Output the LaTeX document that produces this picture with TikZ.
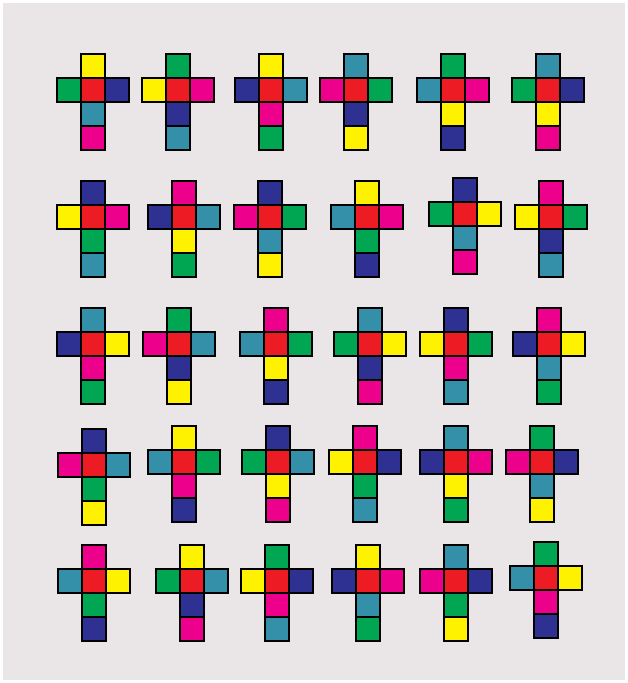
\documentclass[tikz,border=0pt]{standalone}
\usepackage{tikz}
\usetikzlibrary{positioning}
\definecolor{bggray}{HTML}{EAE6E8}
\definecolor{yel}{HTML}{FFF200}
\definecolor{grn}{HTML}{00A651}
\definecolor{blu}{HTML}{2E3192}
\definecolor{tea}{HTML}{3490A8}
\definecolor{mag}{HTML}{EC008C}
\definecolor{redc}{HTML}{ED1C24}
\tikzset{
 sq/.style={draw=black,line width=1.4pt,minimum size=24pt,inner sep=0pt,outer sep=0pt},
 mid/.style={sq,fill=redc}
}

\begin{document}
\begin{tikzpicture}[x=1pt,y=-1pt]
 \useasboundingbox (0,0) rectangle (627,683);
 \fill[bggray] (3,3) rectangle (625,680);
 % one cross per entry: centre x/y, then top, left, right, lower, lowest
 \foreach \px/\py/\t/\l/\r/\a/\b [count=\i] in {
   93/90/yel/grn/blu/tea/mag, 178/90/grn/yel/mag/blu/tea, 271/90/yel/blu/tea/mag/grn,
   356/90/tea/mag/grn/blu/yel, 453/90/grn/tea/mag/yel/blu, 548/90/tea/grn/blu/yel/mag,
   93/217/blu/yel/mag/grn/tea, 184/217/mag/blu/tea/yel/grn, 270/217/blu/mag/grn/tea/yel,
   367/217/yel/tea/mag/grn/blu, 465/214/blu/grn/yel/tea/mag, 551/217/mag/yel/grn/blu/tea,
   93/344/tea/blu/yel/mag/grn, 179/344/grn/mag/tea/blu/yel, 276/344/mag/tea/grn/yel/blu,
   370/344/tea/grn/yel/blu/mag, 456/344/blu/yel/grn/mag/tea, 549/344/mag/blu/yel/tea/grn,
   94/465/blu/mag/tea/grn/yel, 184/462/yel/tea/grn/mag/blu, 278/462/blu/grn/tea/yel/mag,
   365/462/mag/yel/blu/grn/tea, 456/462/tea/blu/mag/yel/grn, 542/462/grn/mag/blu/tea/yel,
   94/581/mag/tea/yel/grn/blu, 192/581/yel/grn/tea/blu/mag, 277/581/grn/yel/blu/mag/tea,
   368/581/yel/blu/mag/tea/grn, 456/581/tea/mag/blu/grn/yel, 546/578/grn/tea/yel/mag/blu}
 {
   \node[mid] (c\i) at (\px,\py) {};
   \node[sq,fill=\t,above=0pt of c\i] (c\i-t) {};
   \node[sq,fill=\l,left=0pt of c\i] (c\i-l) {};
   \node[sq,fill=\r,right=0pt of c\i] (c\i-r) {};
   \node[sq,fill=\a,below=0pt of c\i] (c\i-a) {};
   \node[sq,fill=\b,below=0pt of c\i-a] (c\i-b) {};
 }
\end{tikzpicture}
\end{document}
